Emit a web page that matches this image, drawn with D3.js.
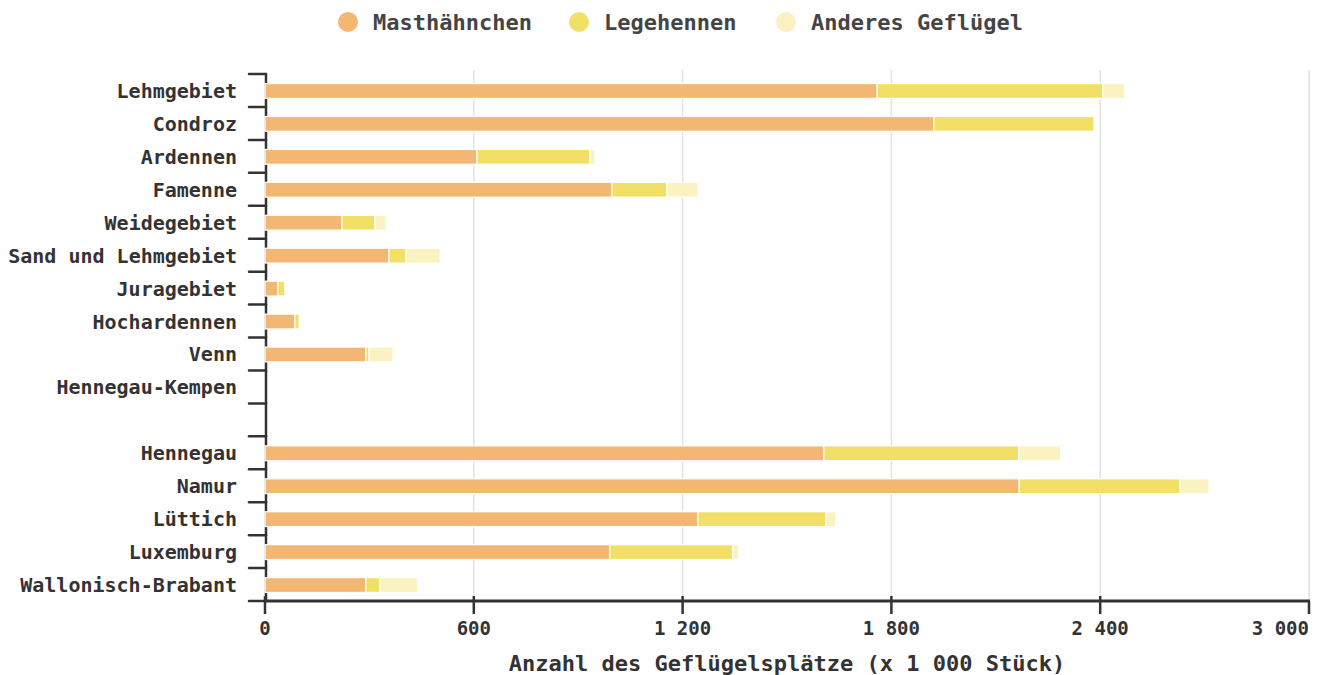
<!DOCTYPE html>
<html><head><meta charset="utf-8">
<script src="https://cdn.jsdelivr.net/npm/d3@7"></script>
<style>
html,body{margin:0;padding:0;background:#fff;}
svg text{font-family:"DejaVu Sans Mono",monospace;font-weight:bold;fill:#333;}
</style></head>
<body><svg id="chart" width="1320" height="675"></svg>
<script>
const categories = ["Lehmgebiet","Condroz","Ardennen","Famenne","Weidegebiet","Sand und Lehmgebiet","Juragebiet","Hochardennen","Venn","Hennegau-Kempen","","Hennegau","Namur","Lüttich","Luxemburg","Wallonisch-Brabant"];
const seriesNames = ["Masthähnchen","Legehennen","Anderes Geflügel"];
const masthaehnchen = [1759,1922,609,997,221,356,37,86,290,0,0,1606,2167,1244,991,290];
const legehennen    = [649,460,325,158,95,49,20,12,9,0,0,560,463,368,353,40];
const anderes       = [63,0,14,89,32,98,0,0,69,0,0,121,83,29,17,109];
const xTicks = [0,600,1200,1800,2400,3000];
const colors = ["#f3b774","#f2e066","#faf2c0"];
const xTitle = "Anzahl des Geflügelsplätze (x 1 000 Stück)";

const svg = d3.select("#chart");
const x = d3.scaleLinear().domain([0,3000]).range([265,1309]);
const y = d3.scaleBand().domain(categories).range([74.5,601.5]).paddingInner(0.55).paddingOuter(0.275);
const fmt = d3.formatLocale({decimal:",",thousands:" ",grouping:[3],currency:["","€"]}).format(",d");

// grid
svg.append("g").selectAll("line").data(xTicks.slice(1)).join("line")
  .attr("x1",d=>x(d)).attr("x2",d=>x(d)).attr("y1",70).attr("y2",601)
  .attr("stroke","#e3e3e3").attr("stroke-width",1.5);

// y axis line + ticks at band boundaries
const yAxis = svg.append("g");
yAxis.append("line").attr("x1",266).attr("x2",266).attr("y1",74).attr("y2",601)
  .attr("stroke","#333").attr("stroke-width",2.5).attr("stroke-linecap","round");
const bounds = d3.range(categories.length+1).map(i=>74+i*y.step());
yAxis.selectAll("line.t").data(bounds).join("line").attr("class","t")
  .attr("x1",249).attr("x2",266).attr("y1",d=>d).attr("y2",d=>d)
  .attr("stroke","#333").attr("stroke-width",2.5).attr("stroke-linecap","round");

// stacked bars
const rows = categories.map((c,i)=>({cat:c, v:[masthaehnchen[i],legehennen[i],anderes[i]]}));
const segs = [];
rows.forEach(r=>{let acc=0; r.v.forEach((v,k)=>{ if(v>0) segs.push({cat:r.cat,x0:acc,x1:acc+v,k}); acc+=v;});});
svg.append("g").selectAll("rect").data(segs).join("rect")
  .attr("x",d=>x(d.x0)).attr("width",d=>x(d.x1)-x(d.x0))
  .attr("y",d=>y(d.cat)).attr("height",y.bandwidth())
  .attr("fill",d=>colors[d.k]).attr("stroke","#fff").attr("stroke-width",1.2);

// y labels
svg.append("g").selectAll("text").data(categories).join("text")
  .attr("x",237).attr("y",d=>y(d)+y.bandwidth()/2).attr("dy","0.35em")
  .attr("text-anchor","end").style("font-size","20px").text(d=>d);

// x axis
const xa = svg.append("g");
xa.append("line").attr("x1",264).attr("x2",1310).attr("y1",601).attr("y2",601)
  .attr("stroke","#333").attr("stroke-width",3);
xa.selectAll("line.t").data(xTicks).join("line").attr("class","t")
  .attr("x1",d=>x(d)).attr("x2",d=>x(d)).attr("y1",d=>d===3000?601:596).attr("y2",614)
  .attr("stroke","#333").attr("stroke-width",2.5);
xa.selectAll("text").data(xTicks).join("text")
  .attr("x",d=>x(d)).attr("y",628).attr("dy","0.35em")
  .attr("text-anchor",(d,i)=>i===xTicks.length-1?"end":"middle")
  .style("font-size","19px").text(d=>fmt(d));
svg.append("text").attr("x",787).attr("y",663).attr("dy","0.35em").attr("text-anchor","middle")
  .style("font-size","22px").text(xTitle);

// legend
const legX = [348,579,786];
const lg = svg.append("g").selectAll("g").data(seriesNames).join("g")
  .attr("transform",(d,i)=>`translate(${legX[i]},22)`);
lg.append("circle").attr("r",10).attr("fill",(d,i)=>colors[i]);
lg.append("text").attr("x",25).attr("dy","0.35em").style("font-size","22px").style("fill","#444").text(d=>d);
</script></body></html>
